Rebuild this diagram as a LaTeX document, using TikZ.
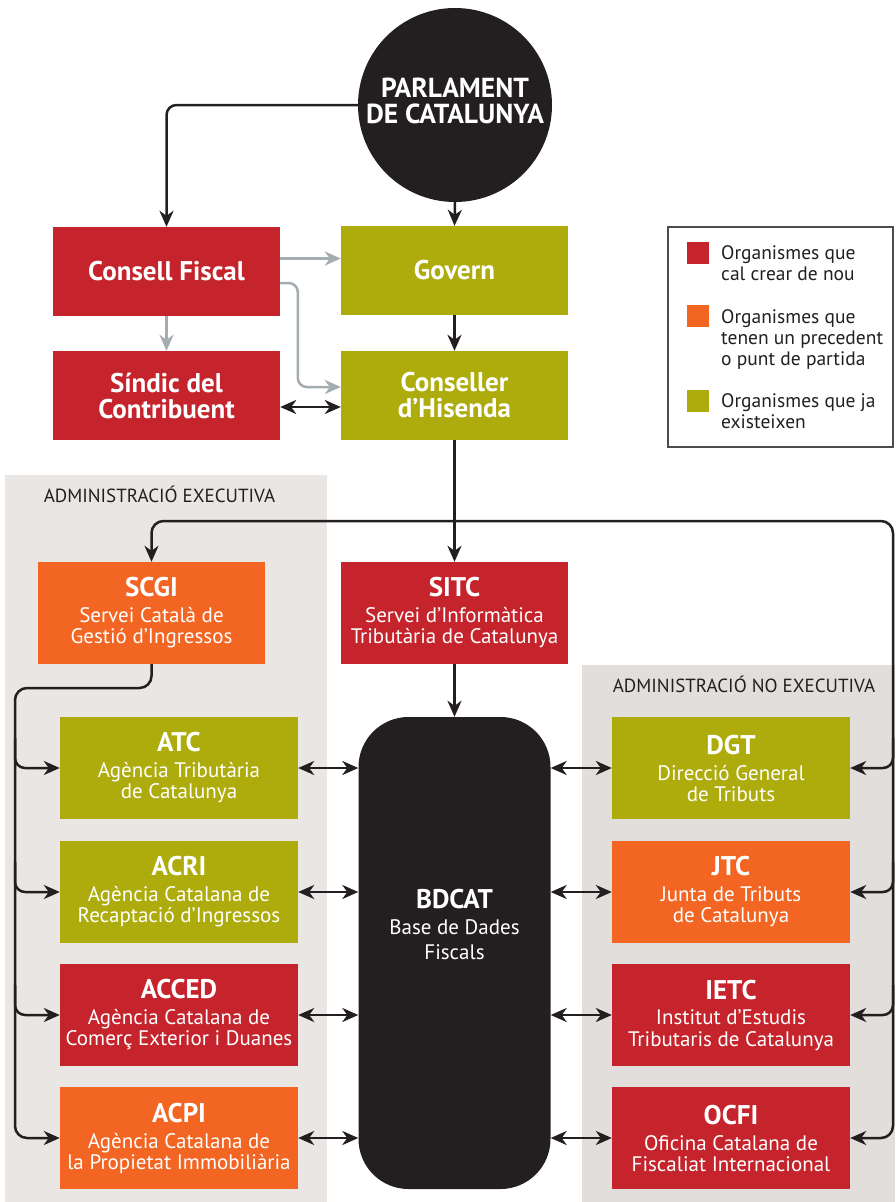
\documentclass[tikz,border=0pt]{standalone}
\usepackage{fontspec}
\setmainfont{PT Sans}
\usepackage{tikz}
\usetikzlibrary{calc,backgrounds,arrows.meta}
\usetikzlibrary{positioning}
\usepackage{xcolor}
\definecolor{nouvermell}{RGB}{197,36,44}
\definecolor{precorange}{RGB}{242,101,34}
\definecolor{existolive}{RGB}{173,172,12}
\definecolor{ink}{RGB}{35,31,32}
\definecolor{panelexec}{RGB}{234,230,227}
\definecolor{panelnoexec}{RGB}{226,222,220}
\definecolor{softgray}{RGB}{163,172,177}
\tikzstyle{org}=[
  rectangle,inner sep=0pt,text=white,align=center,font=\fontsize{21}{21}\selectfont
]
\tikzstyle{nou}=[org,fill=nouvermell]
\tikzstyle{prec}=[org,fill=precorange]
\tikzstyle{exist}=[org,fill=existolive]
\tikzstyle{upbox}=[
  minimum width=227pt,minimum height=89pt,font=\bfseries\fontsize{27}{26}\selectfont
]
\tikzstyle{midbox}=[minimum width=227pt,minimum height=102pt]
\tikzstyle{sidebox}=[minimum width=238pt,minimum height=102pt]
\tikzstyle{link}=[
  line width=2.5pt,draw=ink,-{Stealth[length=16pt,width=14pt,inset=5pt]}
]
\tikzstyle{twolink}=[
  line width=2.5pt,draw=ink,{Stealth[length=16pt,width=14pt,inset=5pt]}-{Stealth[length=16pt,width=14pt,inset=5pt]}
]
\tikzstyle{greylink}=[
  line width=2.5pt,draw=softgray,-{Stealth[length=16pt,width=14pt,inset=5pt]}
]
\tikzstyle{legsq}=[rectangle,inner sep=0pt,minimum size=22pt]
\tikzstyle{legtext}=[
  anchor=north west,inner sep=0pt,align=left,text=ink,font=\fontsize{19.5}{21}\selectfont
]
\tikzstyle{panellabel}=[inner sep=0pt,text=ink,font=\fontsize{19}{20}\selectfont]
\newcommand{\orgtitle}[1]{{\bfseries\fontsize{27}{26}\selectfont #1}}

\begin{document}
\begin{tikzpicture}[x=1pt,y=-1pt]
    \useasboundingbox (0,0) rectangle (895,1202);
    \begin{scope}[on background layer]
      \fill[panelexec] (5,475) rectangle (327,1202);
      \fill[panelnoexec] (582,665) rectangle (895,1202);
    \end{scope}
      \node (execlbl) at (159.5,494) [panellabel] {ADMINISTRACIÓ EXECUTIVA};
      \node (noexeclbl) at (744,684) [panellabel] {ADMINISTRACIÓ NO EXECUTIVA};
      % top of the chart
      \node (parl) at (455,105) [circle,fill=ink,minimum size=194pt,inner sep=0pt,
        label={[text=white,align=center,inner sep=0pt,yshift=4pt,font=\bfseries\fontsize{27.5}{26}\selectfont]center:PARLAMENT\\DE CATALUNYA}] {};
      \node (cf) at (166.5,271.5) [nou,upbox] {Consell Fiscal};
      \node (gov) at (454.5,270.5) [exist,upbox] {Govern};
      \node (sind) at (166.5,395.5) [nou,upbox] {Síndic del\\Contribuent};
      \node (cons) at (454.5,395.5) [exist,upbox] {Conseller\\d’Hisenda};
      % services
      \node (scgi) at (151.5,613) [prec,midbox] {\orgtitle{SCGI}\\[5pt]Servei Català de\\Gestió d’Ingressos};
      \node (sitc) at (454.5,613) [nou,midbox] {\orgtitle{SITC}\\[5pt]Servei d’Informàtica\\Tributària de Catalunya};
      \node (bd) at (454.5,953) [rectangle,rounded corners=50pt,fill=ink,minimum width=192pt,minimum height=472pt,
        label={[org,yshift=29pt]center:\orgtitle{BDCAT}\\[5pt]Base de Dades\\[4pt]Fiscals}] {};
      % executive side
      \node (atc) at (179,768) [exist,sidebox] {\orgtitle{ATC}\\[5pt]Agència Tributària\\de Catalunya};
      \node (acri) at (179,892) [exist,sidebox] {\orgtitle{ACRI}\\[5pt]Agència Catalana de\\Recaptació d’Ingressos};
      \node (acced) at (179,1015) [nou,sidebox] {\orgtitle{ACCED}\\[5pt]Agència Catalana de\\Comerç Exterior i Duanes};
      \node (acpi) at (179,1138) [prec,sidebox] {\orgtitle{ACPI}\\[5pt]Agència Catalana de\\la Propietat Immobiliària};
      % non executive side
      \node (dgt) at (731,768) [exist,sidebox] {\orgtitle{DGT}\\[5pt]Direcció General\\de Tributs};
      \node (jtc) at (731,892) [prec,sidebox] {\orgtitle{JTC}\\[5pt]Junta de Tributs\\de Catalunya};
      \node (ietc) at (731,1015) [nou,sidebox] {\orgtitle{IETC}\\[5pt]Institut d’Estudis\\Tributaris de Catalunya};
      \node (ocfi) at (731,1138) [nou,sidebox] {\orgtitle{OCFI}\\[5pt]Oficina Catalana de\\Fiscaliat Internacional};
      % legend
      \node (leg) at (780.5,337) [draw=ink!80,line width=1.2pt,minimum width=225pt,minimum height=220pt] {};
      \node (sq1) at (698,253) [legsq,fill=nouvermell] {};
      \node (sq2) at (698,316) [legsq,fill=precorange] {};
      \node (sq3) at (698,401) [legsq,fill=existolive] {};
      \node (lt1) at ($(sq1.center)+(23,-8)$) [legtext] {Organismes que\\cal crear de nou};
      \node (lt2) at ($(sq2.center)+(23,-7)$) [legtext] {Organismes que\\tenen un precedent\\o punt de partida};
      \node (lt3) at ($(sq3.center)+(23,-8)$) [legtext] {Organismes que ja\\existeixen};
      \coordinate (split) at (454.5,521);
      \coordinate (ltrunk) at (15,688);
      \coordinate (rtrunk) at (893,1100);
    \begin{scope}[on background layer]
      \draw [link,rounded corners=10] (parl.west) -| (cf.north);
      \draw [link] (parl.south) -- (gov.north);
      \draw [greylink] ($(cf.east)+(0,-13)$) -- ($(gov.west)+(0,-12)$);
      \draw [greylink,rounded corners=9] ($(cf.east)+(0,11.5)$) -| ($(cons.west)+(-43,-8.5)$) -- ($(cons.west)+(0,-8.5)$);
      \draw [greylink] (cf.south) -- (sind.north);
      \draw [link] (gov.south) -- (cons.north);
      \draw [twolink] ($(sind.east)+(0,11.5)$) -- ($(cons.west)+(0,11.5)$);
      \draw [link] (cons.south) -- (sitc.north);
      \draw [link,rounded corners=12] (split) -| (scgi.north);
      \draw [link] (sitc.south) -- (bd.north);
      % executive branches
      \draw [link,rounded corners=12] (scgi.south) |- (ltrunk) |- (acpi.west);
      \draw [link,rounded corners=10] ($(ltrunk |- atc.west)+(0,-30)$) |- (atc.west);
      \draw [link,rounded corners=10] ($(ltrunk |- acri.west)+(0,-30)$) |- (acri.west);
      \draw [link,rounded corners=10] ($(ltrunk |- acced.west)+(0,-30)$) |- (acced.west);
      % non executive branches
      \draw [link,rounded corners=12] (split) -| (rtrunk) |- (ocfi.east);
      \draw [link,rounded corners=10] ($(rtrunk |- dgt.east)+(0,-30)$) |- (dgt.east);
      \draw [link,rounded corners=10] ($(rtrunk |- jtc.east)+(0,-30)$) |- (jtc.east);
      \draw [link,rounded corners=10] ($(rtrunk |- ietc.east)+(0,-30)$) |- (ietc.east);
      % links to the data base
      \draw [twolink] (atc.east) -- (atc.east -| bd.west);
      \draw [twolink] (acri.east) -- (acri.east -| bd.west);
      \draw [twolink] (acced.east) -- (acced.east -| bd.west);
      \draw [twolink] (acpi.east) -- (acpi.east -| bd.west);
      \draw [twolink] (bd.east |- dgt.west) -- (dgt.west);
      \draw [twolink] (bd.east |- jtc.west) -- (jtc.west);
      \draw [twolink] (bd.east |- ietc.west) -- (ietc.west);
      \draw [twolink] (bd.east |- ocfi.west) -- (ocfi.west);
    \end{scope}
    \end{tikzpicture}
\end{document}
